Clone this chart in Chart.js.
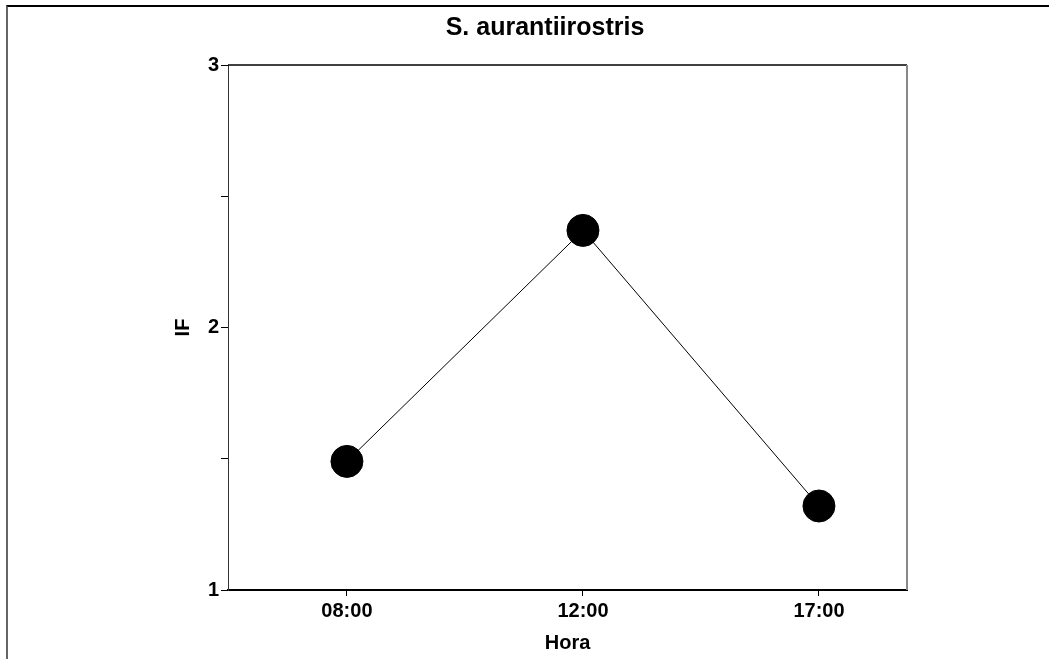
<!DOCTYPE html>
<html>
<head>
<meta charset="utf-8">
<script src="https://cdn.jsdelivr.net/npm/chart.js@4.4.1/dist/chart.umd.min.js"></script>
<style>
  body { margin: 0; background: #fff; }
  #wrap { position: relative; width: 1053px; height: 659px; overflow: hidden; }
  #frame {
    position: absolute; left: 6px; top: 5px; width: 1041px; height: 700px;
    border-top: 2px solid #000; border-left: 2px solid #666;
  }
  canvas { position: absolute; left: 0; top: 0; }
</style>
</head>
<body>
<div id="wrap">
  <div id="frame"></div>
  <canvas id="chart" width="1053" height="659"></canvas>
</div>
<script>
"use strict";

const hours = ["08:00", "12:00", "17:00"];
const ifValues = [1.49, 2.37, 1.32];
const yTicks = [1, 1.5, 2, 2.5, 3];

const FONT = "'Liberation Sans', Arial, Helvetica, sans-serif";

// draws the top and right edges of the plot box
const plotBox = {
  id: "plotBox",
  afterDraw(chart) {
    const { ctx, chartArea: a } = chart;
    ctx.save();
    ctx.strokeStyle = "#000";
    ctx.lineWidth = 1.5;
    ctx.beginPath();
    ctx.moveTo(a.left, a.top);
    ctx.lineTo(a.right, a.top);
    ctx.stroke();
    ctx.strokeStyle = "#888";
    ctx.lineWidth = 2;
    ctx.beginPath();
    ctx.moveTo(a.right, a.top);
    ctx.lineTo(a.right, a.bottom);
    ctx.stroke();
    ctx.restore();
  },
};

const points = hours.map((h, i) => ({ x: i, y: ifValues[i] }));

new Chart(document.getElementById("chart").getContext("2d"), {
  type: "line",
  data: {
    datasets: [
      {
        data: points,
        borderColor: "#000",
        borderWidth: 1,
        backgroundColor: "#000",
        pointBackgroundColor: "#000",
        pointBorderColor: "#000",
        pointRadius: 16,
        pointHoverRadius: 16,
        tension: 0,
      },
    ],
  },
  options: {
    responsive: false,
    animation: false,
    layout: { padding: { left: 183, right: 146, top: 0, bottom: 0 } },
    plugins: {
      legend: { display: false },
      tooltip: { enabled: false },
      title: {
        display: true,
        text: "S. aurantiirostris",
        color: "#000",
        font: { family: FONT, size: 25, weight: "bold", lineHeight: 1.2 },
        padding: { top: 13.5, bottom: 21.5 },
      },
    },
    scales: {
      x: {
        type: "linear",
        min: -0.504,
        max: 2.373,
        afterBuildTicks: (scale) => {
          scale.ticks = hours.map((h, i) => ({ value: i }));
        },
        afterFit: (scale) => {
          scale.height = 69;
        },
        ticks: {
          color: "#000",
          font: { family: FONT, size: 20, weight: "bold" },
          padding: 3,
          maxRotation: 0,
          callback: (v) => hours[v] ?? "",
        },
        grid: {
          drawOnChartArea: false,
          drawTicks: true,
          tickLength: 6,
          tickColor: "#000",
        },
        border: { display: true, color: "#000", width: 2 },
        title: {
          display: true,
          text: "Hora",
          color: "#000",
          font: { family: FONT, size: 20, weight: "bold" },
          padding: { top: 4, bottom: 4 },
        },
      },
      y: {
        type: "linear",
        min: 1,
        max: 3,
        afterBuildTicks: (scale) => {
          scale.ticks = yTicks.map((v) => ({ value: v }));
        },
        afterFit: (scale) => {
          scale.width = 45;
        },
        ticks: {
          color: "#000",
          font: { family: FONT, size: 20, weight: "bold" },
          padding: 2,
          callback: (v) => (Number.isInteger(v) ? String(v) : ""),
        },
        grid: {
          drawOnChartArea: false,
          drawTicks: true,
          tickLength: 7,
          tickColor: "#000",
        },
        border: { display: true, color: "#333", width: 1 },
        title: {
          display: true,
          text: "IF",
          color: "#000",
          font: { family: FONT, size: 20, weight: "bold" },
          padding: { top: -12, bottom: 0 },
        },
      },
    },
  },
  plugins: [plotBox],
});
</script>
</body>
</html>
